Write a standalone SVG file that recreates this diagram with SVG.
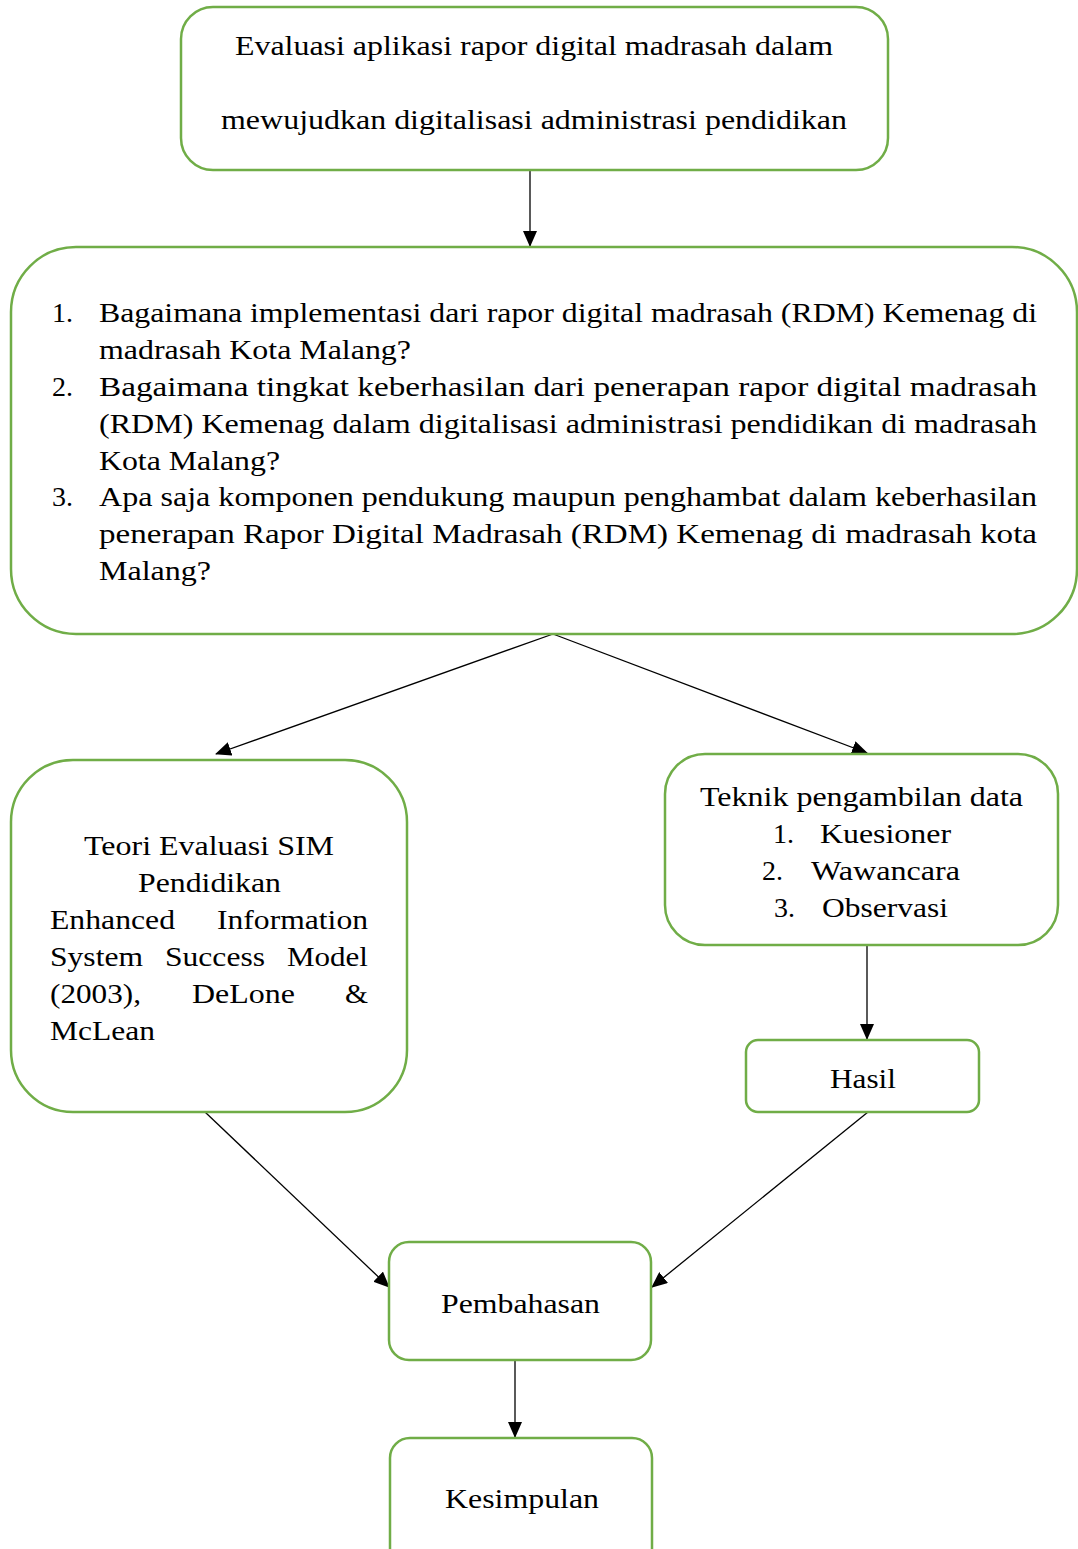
<svg xmlns="http://www.w3.org/2000/svg" width="1078" height="1549" viewBox="0 0 1078 1549">
<style>
.box{fill:#fff;stroke:#70AD47;stroke-width:2.5}
.t{font-family:'Liberation Serif','Times New Roman','DejaVu Serif','Noto Serif',serif;font-size:28px;fill:#000}
.c{text-anchor:middle}
.e{stroke:#000;stroke-width:1.3;fill:none;marker-end:url(#ah)}
</style>
<defs>
<marker id="ah" markerUnits="userSpaceOnUse" markerWidth="16" markerHeight="14" refX="15" refY="7" orient="auto">
<path d="M0,0 L16,7 L0,14 Z" fill="#000"/>
</marker>
</defs>
<rect width="1078" height="1549" fill="#fff"/>
<g id="connectors">
<line class="e" x1="530" y1="170" x2="530" y2="246"/>
<line class="e" x1="553" y1="634" x2="216" y2="754"/>
<line class="e" x1="553" y1="634" x2="867" y2="753"/>
<line class="e" x1="867" y1="945" x2="867" y2="1039"/>
<line class="e" x1="205" y1="1112" x2="389" y2="1287"/>
<line class="e" x1="868" y1="1112" x2="652" y2="1287"/>
<line class="e" x1="515" y1="1360" x2="515" y2="1437"/>
</g>
<g id="node-title">
<rect class="box" x="181" y="7" width="707" height="163" rx="32"/>
<text class="t" x="235" y="55" textLength="598" lengthAdjust="spacingAndGlyphs">Evaluasi aplikasi rapor digital madrasah dalam</text>
<text class="t" x="221" y="129" textLength="626" lengthAdjust="spacingAndGlyphs">mewujudkan digitalisasi administrasi pendidikan</text>
</g>
<g id="node-questions">
<rect class="box" x="11" y="247" width="1066" height="387" rx="65"/>
<text class="t" x="52" y="322">1.</text>
<text class="t" x="99" y="322" textLength="938" lengthAdjust="spacingAndGlyphs">Bagaimana implementasi dari rapor digital madrasah (RDM) Kemenag di</text>
<text class="t" x="99" y="359" textLength="312" lengthAdjust="spacingAndGlyphs">madrasah Kota Malang?</text>
<text class="t" x="52" y="396">2.</text>
<text class="t" x="99" y="396" textLength="938" lengthAdjust="spacingAndGlyphs">Bagaimana tingkat keberhasilan dari penerapan rapor digital madrasah</text>
<text class="t" x="99" y="433" textLength="938" lengthAdjust="spacingAndGlyphs">(RDM) Kemenag dalam digitalisasi administrasi pendidikan di madrasah</text>
<text class="t" x="99" y="470" textLength="181" lengthAdjust="spacingAndGlyphs">Kota Malang?</text>
<text class="t" x="52" y="506">3.</text>
<text class="t" x="99" y="506" textLength="938" lengthAdjust="spacingAndGlyphs">Apa saja komponen pendukung maupun penghambat dalam keberhasilan</text>
<text class="t" x="99" y="543" textLength="938" lengthAdjust="spacingAndGlyphs">penerapan Rapor Digital Madrasah (RDM) Kemenag di madrasah kota</text>
<text class="t" x="99" y="580" textLength="112" lengthAdjust="spacingAndGlyphs">Malang?</text>
</g>
<g id="node-teori">
<rect class="box" x="11" y="760" width="396" height="352" rx="62"/>
<text class="t" x="84" y="855" textLength="250" lengthAdjust="spacingAndGlyphs">Teori Evaluasi SIM</text>
<text class="t" x="138" y="892" textLength="143" lengthAdjust="spacingAndGlyphs">Pendidikan</text>
<text class="t" x="50" y="929" textLength="125" lengthAdjust="spacingAndGlyphs">Enhanced</text>
<text class="t" x="217" y="929" textLength="151" lengthAdjust="spacingAndGlyphs">Information</text>
<text class="t" x="50" y="966" textLength="93" lengthAdjust="spacingAndGlyphs">System</text>
<text class="t" x="165" y="966" textLength="100" lengthAdjust="spacingAndGlyphs">Success</text>
<text class="t" x="287" y="966" textLength="81" lengthAdjust="spacingAndGlyphs">Model</text>
<text class="t" x="50" y="1003" textLength="91" lengthAdjust="spacingAndGlyphs">(2003),</text>
<text class="t" x="192" y="1003" textLength="103" lengthAdjust="spacingAndGlyphs">DeLone</text>
<text class="t" x="345" y="1003" textLength="23" lengthAdjust="spacingAndGlyphs">&amp;</text>
<text class="t" x="50" y="1040" textLength="105" lengthAdjust="spacingAndGlyphs">McLean</text>
</g>
<g id="node-teknik">
<rect class="box" x="665" y="754" width="393" height="191" rx="40"/>
<text class="t" x="700" y="806" textLength="323" lengthAdjust="spacingAndGlyphs">Teknik pengambilan data</text>
<text class="t" x="773" y="843">1.</text>
<text class="t" x="820" y="843" textLength="131" lengthAdjust="spacingAndGlyphs">Kuesioner</text>
<text class="t" x="762" y="880">2.</text>
<text class="t" x="811" y="880" textLength="149" lengthAdjust="spacingAndGlyphs">Wawancara</text>
<text class="t" x="774" y="917">3.</text>
<text class="t" x="822" y="917" textLength="126" lengthAdjust="spacingAndGlyphs">Observasi</text>
</g>
<g id="node-hasil">
<rect class="box" x="746" y="1040" width="233" height="72" rx="12"/>
<text class="t" x="830" y="1088" textLength="66" lengthAdjust="spacingAndGlyphs">Hasil</text>
</g>
<g id="node-pembahasan">
<rect class="box" x="389" y="1242" width="262" height="118" rx="20"/>
<text class="t" x="441" y="1313" textLength="159" lengthAdjust="spacingAndGlyphs">Pembahasan</text>
</g>
<g id="node-kesimpulan">
<rect class="box" x="390" y="1438" width="262" height="140" rx="20"/>
<text class="t" x="445" y="1508" textLength="154" lengthAdjust="spacingAndGlyphs">Kesimpulan</text>
</g>
</svg>
